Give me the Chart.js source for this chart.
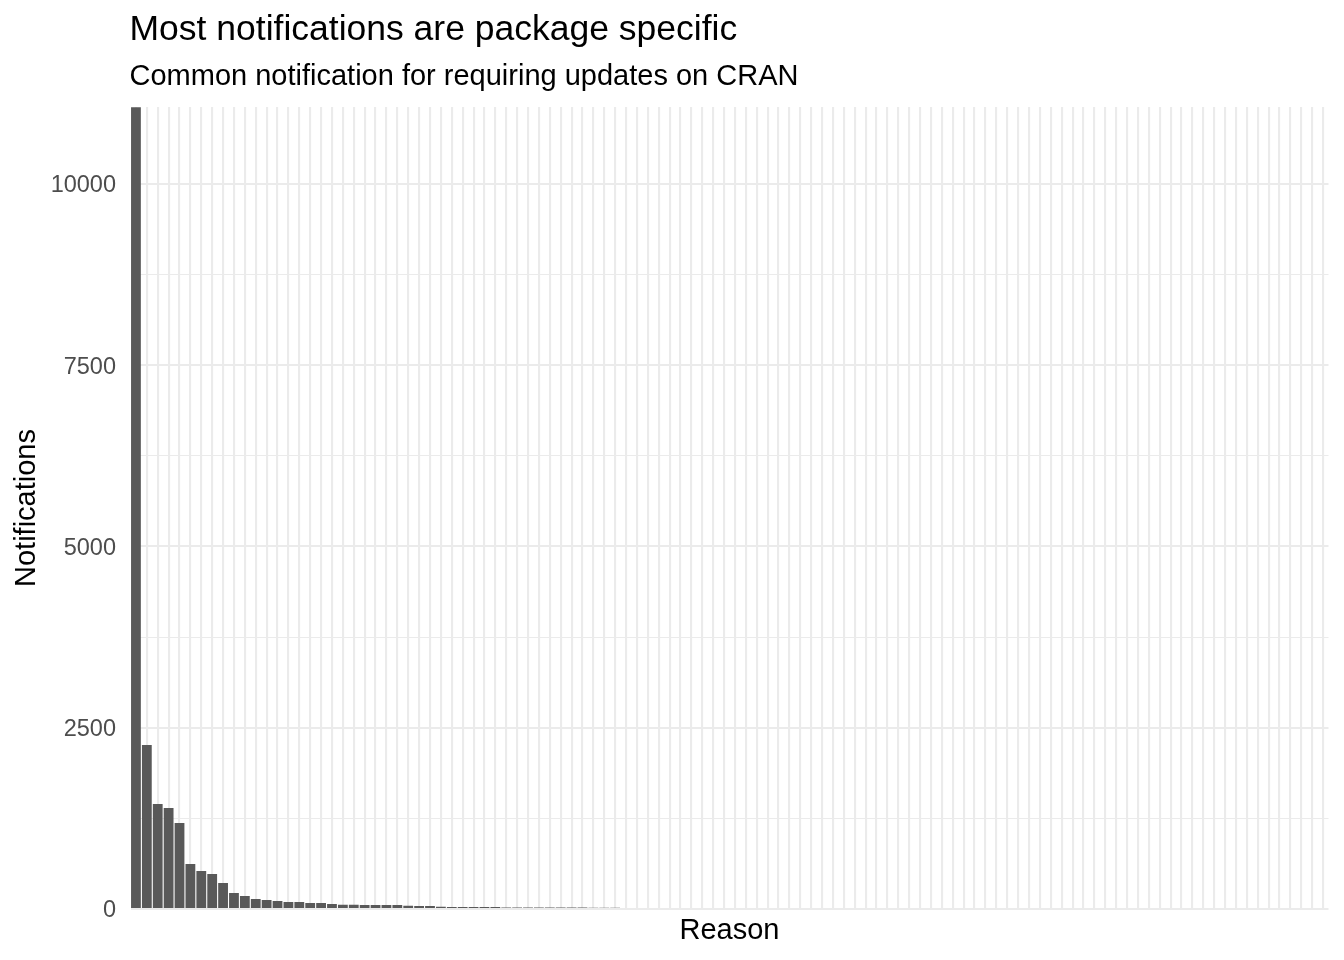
<!DOCTYPE html>
<html>
<head>
<meta charset="utf-8">
<script src="https://cdn.jsdelivr.net/npm/chart.js@4"></script>
<style>
  html, body { margin: 0; padding: 0; background: #ffffff; }
  #wrap { width: 1344px; height: 960px; }
</style>
</head>
<body>
<div id="wrap"><canvas id="reasonChart" width="1344" height="960"></canvas></div>
<script>
const FONT = '"Liberation Sans", Arial, "DejaVu Sans", sans-serif';

// 110 reasons on the x axis, unlabelled in the original
const reasons = Array.from({ length: 110 }, (_, i) => 'Reason ' + (i + 1));

// notifications per reason, sorted; first bar runs off the top of the panel
const notifications = [
  11060, 2262, 1448, 1393, 1186, 621, 524, 483, 359, 221,
  179, 138, 124, 110, 97, 97, 83, 83, 69, 58,
  57, 56, 56, 55, 54, 44, 42, 41, 30, 29,
  28, 27, 27, 26, 21, 20, 20, 20, 19, 19,
  19, 19, 18, 18, 18
];

// y gridlines: labelled majors and unlabelled minors
const yTicksMajor = [0, 2500, 5000, 7500, 10000];
const yTicksAll = [0, 1250, 2500, 3750, 5000, 6250, 7500, 8750, 10000];
const yMax = 11062;

const titleText = 'Most notifications are package specific';
const subtitleText = 'Common notification for requiring updates on CRAN';

const headerPlugin = {
  id: 'header',
  afterDraw(chart) {
    const ctx = chart.ctx;
    const left = chart.chartArea.left;
    ctx.save();
    ctx.fillStyle = '#000000';
    ctx.textAlign = 'left';
    ctx.textBaseline = 'alphabetic';
    ctx.font = '35.5px ' + FONT;
    ctx.fillText(titleText, left - 1, 40);
    ctx.font = '29px ' + FONT;
    ctx.fillText(subtitleText, left - 1, 85);
    ctx.restore();
  }
};

new Chart(document.getElementById('reasonChart'), {
  type: 'bar',
  data: {
    labels: reasons,
    datasets: [{
      label: 'Notifications',
      data: notifications,
      backgroundColor: '#595959',
      borderWidth: 0,
      categoryPercentage: 1.0,
      barPercentage: 0.9
    }]
  },
  options: {
    responsive: false,
    animation: false,
    devicePixelRatio: 1,
    layout: {
      padding: { top: 107, right: 15.5, bottom: 0, left: 0 }
    },
    plugins: {
      legend: { display: false },
      tooltip: { enabled: false }
    },
    scales: {
      x: {
        offset: true,
        grid: {
          offset: false,
          color: '#EBEBEB',
          lineWidth: 2.1,
          drawTicks: false
        },
        border: { display: false },
        ticks: { display: false, autoSkip: false },
        title: {
          display: true,
          text: 'Reason',
          color: '#000000',
          font: { family: FONT, size: 29 },
          padding: { top: 0, bottom: 12 }
        },
        afterFit(scale) { scale.height = 51; }
      },
      y: {
        min: 0,
        max: yMax,
        afterBuildTicks(scale) {
          scale.ticks = yTicksAll.map((v) => ({ value: v }));
        },
        grid: {
          color: '#EBEBEB',
          lineWidth: (c) => (c.tick && yTicksMajor.includes(c.tick.value)) ? 2.1 : 1.05,
          drawTicks: false
        },
        border: { display: false },
        ticks: {
          padding: 14.5,
          labelOffset: 2,
          color: '#4D4D4D',
          font: { family: FONT, size: 23.5 },
          autoSkip: false,
          callback: (v) => yTicksMajor.includes(v) ? String(v) : ''
        },
        title: {
          display: true,
          text: 'Notifications',
          color: '#000000',
          font: { family: FONT, size: 29 },
          padding: { top: 10, bottom: 0 }
        },
        afterFit(scale) { scale.width = 130.5; }
      }
    }
  },
  plugins: [headerPlugin]
});
</script>
</body>
</html>
